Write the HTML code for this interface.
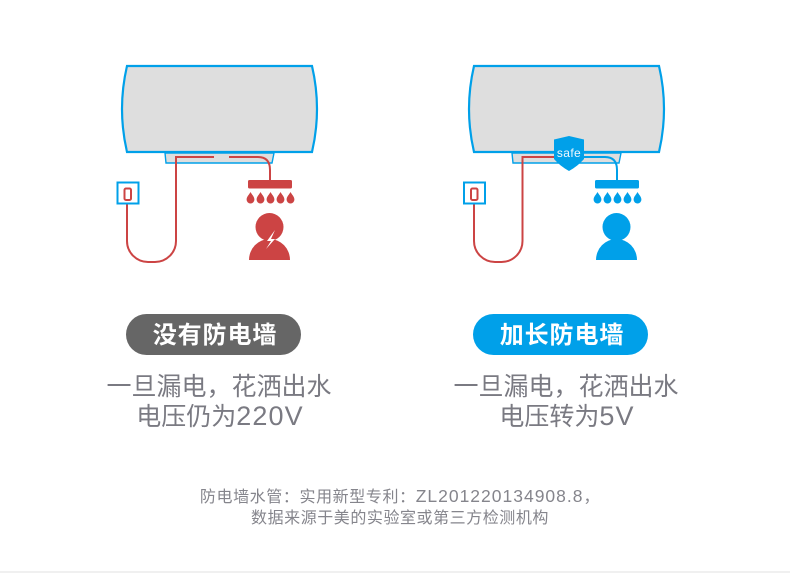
<!DOCTYPE html>
<html>
<head>
<meta charset="utf-8">
<style>
html,body{margin:0;padding:0;background:#fff;}
svg{display:block;}
text{font-family:"Liberation Sans","Noto Sans CJK SC",sans-serif;text-anchor:middle;}
</style>
</head>
<body>
<svg width="790" height="573" viewBox="0 0 790 573" xmlns="http://www.w3.org/2000/svg">
<defs>
<path id="drop" d="M0,-6 C1.400,-3.200 3.900,-1.500 3.900,1.600 A3.900,3.900 0 0 1 -3.900,1.600 C-3.900,-1.500 -1.400,-3.200 0,-6Z"/>
</defs>
<rect width="790" height="573" fill="#fff"/>
<rect x="0" y="571" width="790" height="2" fill="#f0f0f0"/>

<!-- LEFT -->
<path d="M165,153 L274,153 L272,163 L166,163Z" fill="#dedede" stroke="#00a0e9" stroke-width="1.400"/>
<path d="M127,66 L312,66 Q322,109 312,152 L127,152 Q117,109 127,66Z" fill="#dedede" stroke="#00a0e9" stroke-width="2.200"/>
<path d="M214,157 L176,157 L176,241 A21,21 0 0 1 155,262 L148,262 A21,21 0 0 1 127,241 L127,200" fill="none" stroke="#cc4444" stroke-width="2"/>
<path d="M229,157 L258,157 Q270,157 270,170 L270,181" fill="none" stroke="#cc4444" stroke-width="2"/>
<rect x="117.500" y="182.500" width="21" height="21" fill="#fff" stroke="#00a0e9" stroke-width="2"/>
<rect x="124.500" y="188.500" width="6.500" height="11.500" rx="1.500" fill="#fff" stroke="#cc4444" stroke-width="2"/>
<rect x="248" y="180" width="44" height="8.500" rx="1.500" fill="#cc4444"/>
<g fill="#cc4444">
<use href="#drop" x="250.500" y="198"/><use href="#drop" x="260.500" y="198"/><use href="#drop" x="270.500" y="198"/><use href="#drop" x="280.500" y="198"/><use href="#drop" x="290.500" y="198"/>
<circle cx="269.500" cy="227" r="14"/>
<path d="M249,260 A20.500,21 0 0 1 290,260Z"/>
</g>
<path d="M275,230 L267,241 L271,241 L266,249 L275,239 L271,239 L275,230Z" fill="#fff"/>

<!-- RIGHT -->
<path d="M512,153 L621,153 L619,163 L513,163Z" fill="#dedede" stroke="#00a0e9" stroke-width="1.400"/>
<path d="M474,66 L659,66 Q669,109 659,152 L474,152 Q464,109 474,66Z" fill="#dedede" stroke="#00a0e9" stroke-width="2.200"/>
<path d="M560,157 L522.500,157 L522.500,241 A21,21 0 0 1 501.500,262 L495,262 A21,21 0 0 1 474,241 L474,200" fill="none" stroke="#cc4444" stroke-width="2"/>
<path d="M580,157 L605,157 Q617,157 617,170 L617,181" fill="none" stroke="#00a0e9" stroke-width="2"/>
<rect x="464" y="182.500" width="21" height="21" fill="#fff" stroke="#00a0e9" stroke-width="2"/>
<rect x="471" y="188.500" width="6.500" height="11.500" rx="1.500" fill="#fff" stroke="#cc4444" stroke-width="2"/>
<rect x="595" y="180" width="44" height="8.500" rx="1.500" fill="#00a0e9"/>
<g fill="#00a0e9">
<use href="#drop" x="597.500" y="198"/><use href="#drop" x="607.500" y="198"/><use href="#drop" x="617.500" y="198"/><use href="#drop" x="627.500" y="198"/><use href="#drop" x="637.500" y="198"/>
<circle cx="616.500" cy="227" r="14"/>
<path d="M596,260 A20.500,21 0 0 1 637,260Z"/>
</g>
<path d="M554,139.500 L569,136 L584,139.500 L584,159 Q578,166 569,171 Q560,166 554,159Z" fill="#00a0e9"/>
<text x="569" y="157" font-size="12" fill="#eef8fe" letter-spacing=".4">safe</text>

<!-- PILLS -->
<rect x="126" y="314" width="175" height="41" rx="20.500" fill="#666666"/>
<text x="215" y="343" font-size="24" font-weight="700" fill="#fff" letter-spacing=".9">没有防电墙</text>
<rect x="473" y="314" width="175" height="41" rx="20.500" fill="#00a0e9"/>
<text x="562" y="343" font-size="24" font-weight="700" fill="#fff" letter-spacing=".9">加长防电墙</text>

<!-- CAPTIONS -->
<text x="219" y="395" font-size="25" fill="#7a7a82">一旦漏电，花洒出水</text>
<text x="220" y="425" font-size="25" fill="#7a7a82">电压仍为<tspan font-size="27" letter-spacing="1.100">220V</tspan></text>
<text x="566" y="395" font-size="25" fill="#7a7a82">一旦漏电，花洒出水</text>
<text x="567" y="425" font-size="25" fill="#7a7a82">电压转为<tspan font-size="27" letter-spacing="1.100">5V</tspan></text>

<!-- FOOTNOTE -->
<text x="400" y="502" font-size="16" fill="#85858c" letter-spacing=".6">防电墙水管：实用新型专利：<tspan font-size="17.500" letter-spacing="1">ZL201220134908.8</tspan>，</text>
<text x="400" y="523" font-size="16" fill="#85858c" letter-spacing=".55">数据来源于美的实验室或第三方检测机构</text>
</svg>
</body>
</html>
